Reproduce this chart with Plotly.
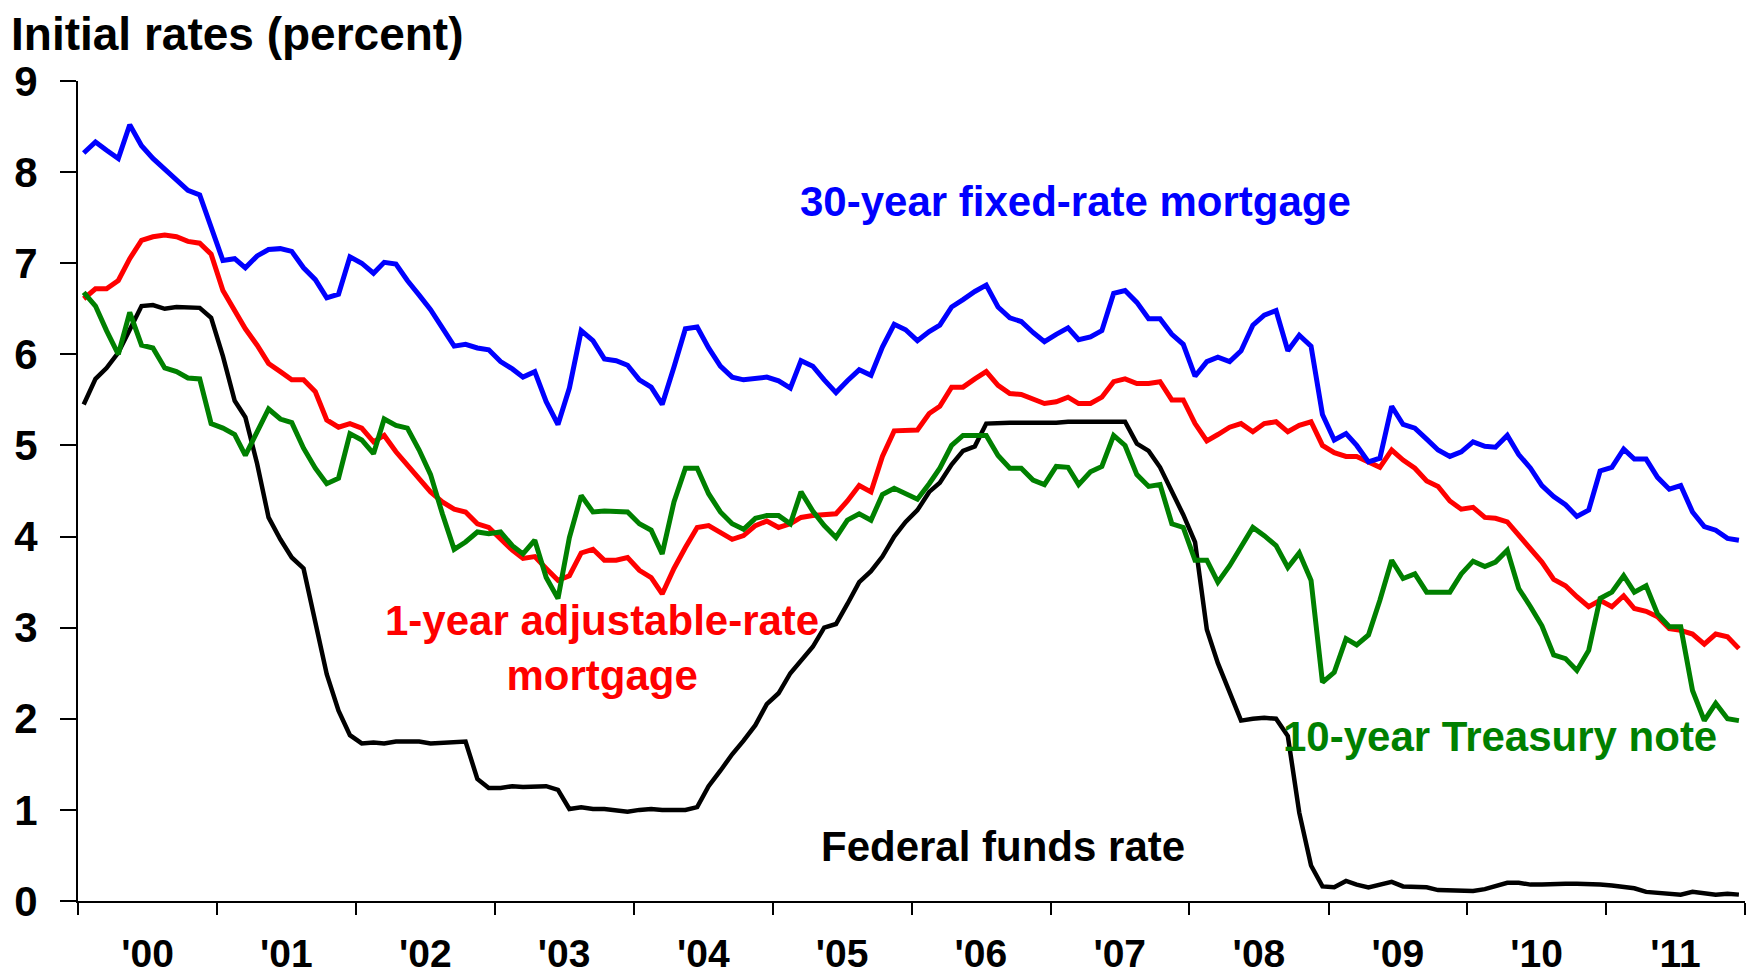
import plotly.graph_objects as go
import pandas as pd

# Monthly data, Jan 2000 - Dec 2011
fixed30 = [
    8.21, 8.33, 8.24, 8.15, 8.52, 8.29, 8.15, 8.03, 7.91, 7.80, 7.75, 7.38,
    7.03, 7.05, 6.95, 7.08, 7.15, 7.16, 7.13, 6.95, 6.82, 6.62, 6.66, 7.07,
    7.00, 6.89, 7.01, 6.99, 6.81, 6.65, 6.49, 6.29, 6.09, 6.11, 6.07, 6.05,
    5.92, 5.84, 5.75, 5.81, 5.48, 5.23, 5.63, 6.26, 6.15, 5.95, 5.93, 5.88,
    5.72, 5.64, 5.45, 5.86, 6.28, 6.30, 6.07, 5.87, 5.75, 5.72, 5.73, 5.75,
    5.71, 5.63, 5.93, 5.87, 5.72, 5.58, 5.71, 5.83, 5.77, 6.08, 6.33, 6.27,
    6.15, 6.25, 6.32, 6.52, 6.60, 6.69, 6.76, 6.52, 6.40, 6.36, 6.24, 6.14,
    6.22, 6.29, 6.16, 6.19, 6.26, 6.67, 6.70, 6.57, 6.39, 6.39, 6.22, 6.11,
    5.76, 5.92, 5.97, 5.92, 6.04, 6.32, 6.43, 6.48, 6.04, 6.21, 6.09, 5.34,
    5.06, 5.13, 5.00, 4.82, 4.86, 5.43, 5.23, 5.19, 5.07, 4.95, 4.88, 4.93,
    5.04, 4.99, 4.98, 5.11, 4.90, 4.75, 4.56, 4.44, 4.35, 4.22, 4.29, 4.72,
    4.76, 4.96, 4.85, 4.85, 4.65, 4.52, 4.56, 4.27, 4.11, 4.07, 3.98, 3.96,
]

arm1 = [
    6.61, 6.72, 6.72, 6.81, 7.05, 7.25, 7.29, 7.31, 7.29, 7.24, 7.22, 7.10,
    6.70, 6.48, 6.28, 6.10, 5.90, 5.81, 5.72, 5.72, 5.59, 5.28, 5.20, 5.24,
    5.19, 5.04, 5.11, 4.93, 4.78, 4.64, 4.49, 4.38, 4.30, 4.27, 4.14, 4.10,
    3.97, 3.85, 3.76, 3.78, 3.65, 3.52, 3.57, 3.82, 3.86, 3.74, 3.74, 3.77,
    3.63, 3.55, 3.37, 3.65, 3.88, 4.10, 4.12, 4.05, 3.97, 4.01, 4.12, 4.17,
    4.10, 4.14, 4.21, 4.23, 4.24, 4.25, 4.39, 4.56, 4.49, 4.88, 5.16, 5.17,
    5.17, 5.35, 5.43, 5.64, 5.64, 5.73, 5.81, 5.66, 5.57, 5.56, 5.51, 5.46,
    5.48, 5.53, 5.46, 5.46, 5.53, 5.70, 5.73, 5.68, 5.68, 5.70, 5.50, 5.50,
    5.24, 5.05, 5.12, 5.20, 5.24, 5.15, 5.24, 5.26, 5.15, 5.22, 5.26, 5.00,
    4.92, 4.88, 4.88, 4.82, 4.76, 4.95, 4.84, 4.75, 4.61, 4.55, 4.39, 4.30,
    4.32, 4.21, 4.20, 4.16, 4.01, 3.85, 3.72, 3.53, 3.46, 3.34, 3.23, 3.30,
    3.23, 3.35, 3.21, 3.18, 3.12, 2.99, 2.97, 2.93, 2.82, 2.93, 2.90, 2.77,
]

treasury10 = [
    6.68, 6.53, 6.26, 6.00, 6.46, 6.10, 6.07, 5.85, 5.81, 5.74, 5.73, 5.24,
    5.19, 5.12, 4.89, 5.15, 5.40, 5.29, 5.25, 4.97, 4.75, 4.58, 4.64, 5.13,
    5.06, 4.91, 5.29, 5.22, 5.19, 4.95, 4.68, 4.25, 3.86, 3.94, 4.05, 4.03,
    4.05, 3.90, 3.81, 3.96, 3.55, 3.32, 3.99, 4.45, 4.27, 4.28, 4.28, 4.27,
    4.14, 4.07, 3.81, 4.38, 4.75, 4.75, 4.47, 4.27, 4.14, 4.08, 4.20, 4.23,
    4.23, 4.14, 4.49, 4.28, 4.12, 3.99, 4.18, 4.25, 4.18, 4.46, 4.53, 4.47,
    4.41, 4.58, 4.75, 5.00, 5.11, 5.11, 5.11, 4.89, 4.75, 4.75, 4.62, 4.57,
    4.77, 4.76, 4.57, 4.71, 4.77, 5.11, 5.00, 4.68, 4.55, 4.57, 4.14, 4.10,
    3.74, 3.74, 3.50, 3.68, 3.88, 4.10, 4.01, 3.90, 3.66, 3.82, 3.52, 2.40,
    2.51, 2.88, 2.81, 2.92, 3.30, 3.74, 3.54, 3.59, 3.39, 3.39, 3.39, 3.59,
    3.73, 3.67, 3.72, 3.85, 3.43, 3.23, 3.02, 2.70, 2.66, 2.53, 2.75, 3.32,
    3.39, 3.57, 3.39, 3.46, 3.15, 3.01, 3.01, 2.31, 1.98, 2.17, 2.00, 1.98,
]

fedfunds = [
    5.45, 5.73, 5.85, 6.02, 6.27, 6.53, 6.54, 6.50, 6.52, 6.51, 6.51, 6.40,
    5.98, 5.49, 5.31, 4.80, 4.21, 3.97, 3.77, 3.65, 3.07, 2.49, 2.09, 1.82,
    1.73, 1.74, 1.73, 1.75, 1.75, 1.75, 1.73, 1.74, 1.75, 1.75, 1.34, 1.24,
    1.24, 1.26, 1.25, 1.26, 1.26, 1.22, 1.01, 1.03, 1.01, 1.01, 1.00, 0.98,
    1.00, 1.01, 1.00, 1.00, 1.00, 1.03, 1.26, 1.43, 1.61, 1.76, 1.93, 2.16,
    2.28, 2.50, 2.63, 2.79, 3.00, 3.04, 3.26, 3.50, 3.62, 3.78, 4.00, 4.16,
    4.29, 4.49, 4.59, 4.79, 4.94, 4.99, 5.24, 5.25, 5.25, 5.25, 5.25, 5.24,
    5.25, 5.26, 5.26, 5.25, 5.25, 5.25, 5.26, 5.02, 4.94, 4.76, 4.49, 4.24,
    3.94, 2.98, 2.61, 2.28, 1.98, 2.00, 2.01, 2.00, 1.81, 0.97, 0.39, 0.16,
    0.15, 0.22, 0.18, 0.15, 0.18, 0.21, 0.16, 0.16, 0.15, 0.12, 0.12, 0.12,
    0.11, 0.13, 0.16, 0.20, 0.20, 0.18, 0.18, 0.19, 0.19, 0.19, 0.19, 0.18,
    0.17, 0.16, 0.14, 0.10, 0.09, 0.09, 0.07, 0.10, 0.08, 0.07, 0.08, 0.07,
]

years = list(range(2000, 2012))
year_labels = ["'00", "'01", "'02", "'03", "'04", "'05", "'06", "'07", "'08", "'09", "'10", "'11"]
y_ticks = list(range(0, 10))

months = pd.date_range("2000-01-01", periods=len(fixed30), freq="MS") + pd.Timedelta(days=15)

FONT = "Liberation Sans, Arial, sans-serif"

# the page body adds an 8px margin, so the figure is sized to fill the rest of the window
W, H = 1746, 968

fig = go.Figure()
series = [
    (fedfunds, "#000000", 4.5, "Federal funds rate"),
    (arm1, "#FF0000", 5, "1-year adjustable-rate mortgage"),
    (treasury10, "#008000", 5, "10-year Treasury note"),
    (fixed30, "#0000FF", 5, "30-year fixed-rate mortgage"),
]
for vals, col, w, name in series:
    fig.add_trace(go.Scatter(x=months, y=vals, mode="lines", name=name,
                             line=dict(color=col, width=w), showlegend=False))

label_font = dict(family=FONT, size=42, weight="bold")
fig.add_annotation(text="30-year fixed-rate mortgage", xref="paper", x=0.5986, yref="y", y=7.68,
                   showarrow=False, font=dict(label_font, color="#0000FF"), xanchor="center", yanchor="middle")
fig.add_annotation(text="1-year adjustable-rate<br>mortgage", xref="paper", x=0.3141, yref="y", y=2.78,
                   showarrow=False, font=dict(label_font, color="#FF0000"), xanchor="center", yanchor="middle", align="center")
fig.add_annotation(text="Federal funds rate", xref="paper", x=0.5551, yref="y", y=0.60,
                   showarrow=False, font=dict(label_font, color="#000000"), xanchor="center", yanchor="middle")
fig.add_annotation(text="10-year Treasury note", xref="paper", x=0.853, yref="y", y=1.81,
                   showarrow=False, font=dict(label_font, color="#008000"), xanchor="center", yanchor="middle")

fig.update_layout(
    width=W, height=H,
    margin=dict(l=70, r=9, t=73, b=75, autoexpand=False),
    paper_bgcolor="white", plot_bgcolor="white",
    title=dict(text="Initial rates (percent)", xref="container", x=3/W, xanchor="left",
               yref="container", y=1 - 26/H, yanchor="middle", automargin=False,
               font=dict(family=FONT, size=46, weight="bold", color="black")),
    xaxis=dict(
        type="date",
        range=["2000-01-01", "2012-01-01"],
        tickmode="array",
        tickvals=[f"{y}-07-02" for y in years],
        ticktext=year_labels,
        ticks="",
        showgrid=False, zeroline=False, automargin=False,
        showline=True, linecolor="black", linewidth=2,
        tickfont=dict(family=FONT, size=39, weight="bold", color="black"),
        ticklabelstandoff=17,
        minor=dict(tickmode="array", tickvals=[f"{y}-01-01" for y in years + [2012]],
                   ticks="outside", ticklen=12, tickwidth=2, tickcolor="black", showgrid=False),
    ),
    yaxis=dict(
        range=[0, 9],
        tickmode="array", tickvals=y_ticks, ticktext=[str(v) for v in y_ticks],
        ticks="outside", ticklen=16, tickwidth=2, tickcolor="black",
        showgrid=False, zeroline=False, automargin=False,
        showline=True, linecolor="black", linewidth=2,
        tickfont=dict(family=FONT, size=42, weight="bold", color="black"),
        ticklabelstandoff=14,
    ),
)

fig.write_html("out.html")
